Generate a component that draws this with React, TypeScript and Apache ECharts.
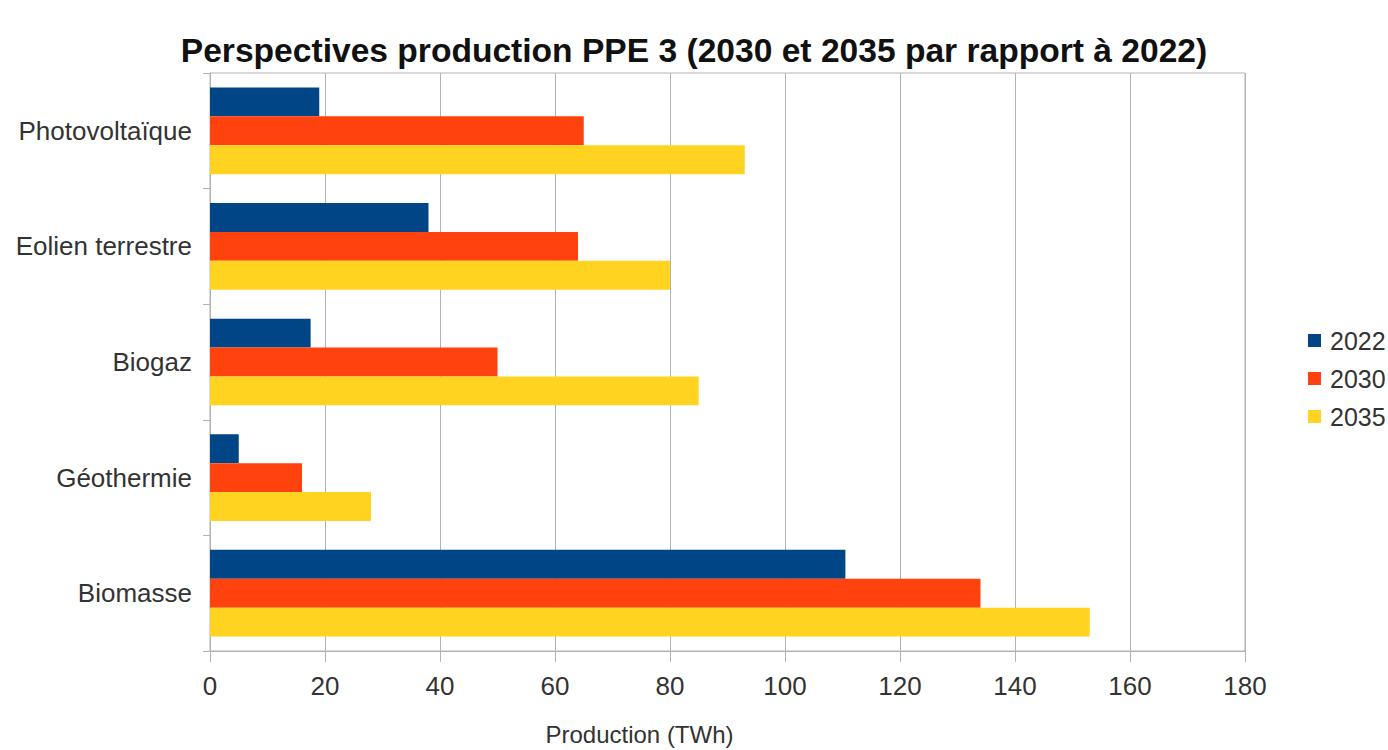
import React, { useEffect, useRef } from "react";
import * as echarts from "echarts";

const categories = ["Photovoltaïque", "Eolien terrestre", "Biogaz", "Géothermie", "Biomasse"];
const seriesNames = ["2022", "2030", "2035"];
const values2022 = [19, 38, 17.5, 5, 110.5];
const values2030 = [65, 64, 50, 16, 134];
const values2035 = [93, 80, 85, 28, 153];
const colors = ["#004586", "#ff420e", "#ffd320"];

export default function App() {
  const ref = useRef<HTMLDivElement>(null);
  useEffect(() => {
    document.body.style.margin = "0";
    const chart = echarts.init(ref.current!, null, { renderer: "svg" });
    const font = "'Liberation Sans', Arial, sans-serif";
    const data = [values2022, values2030, values2035];
    chart.setOption({
      animation: false,
      backgroundColor: "#ffffff",
      textStyle: { fontFamily: font },
      title: {
        text: "Perspectives production PPE 3 (2030 et 2035 par rapport à 2022)",
        left: "center",
        top: 28,
        textStyle: { fontFamily: font, fontWeight: "bold", fontSize: 33.6, color: "#111" },
      },
      legend: {
        orient: "vertical",
        left: 1303,
        top: 323,
        itemWidth: 13,
        itemHeight: 13,
        itemGap: 13,
        icon: "rect",
        textStyle: { fontFamily: font, fontSize: 25, lineHeight: 25, color: "#333", padding: [0, 0, 0, 4] },
        data: seriesNames,
      },
      grid: {
        left: 210,
        right: 143,
        top: 73,
        bottom: 99,
        outerBoundsMode: "none",
        containLabel: false,
        show: true,
        borderColor: "#b3b3b3",
        borderWidth: 1,
      },
      xAxis: {
        type: "value",
        min: 0,
        max: 180,
        interval: 20,
        name: "Production (TWh)",
        nameLocation: "middle",
        nameGap: 71,
        nameTextStyle: {
          fontFamily: font,
          fontSize: 24,
          lineHeight: 24,
          color: "#333",
          padding: [0, 176, 0, 0],
        },
        axisLine: { show: true, lineStyle: { color: "#b3b3b3" } },
        axisTick: { show: true, length: 11, lineStyle: { color: "#b3b3b3" } },
        axisLabel: { fontFamily: font, fontSize: 26, color: "#333", margin: 22 },
        splitLine: { show: true, lineStyle: { color: "#b3b3b3", width: 1 } },
      },
      yAxis: {
        type: "category",
        data: categories,
        inverse: true,
        axisLine: { show: true, lineStyle: { color: "#b3b3b3" } },
        axisTick: { show: true, length: 7, lineStyle: { color: "#b3b3b3" } },
        axisLabel: { fontFamily: font, fontSize: 26, color: "#333", margin: 18 },
      },
      series: seriesNames.map((name, i) => ({
        name,
        type: "bar",
        data: data[i],
        barGap: "0%",
        barCategoryGap: "25%",
        itemStyle: { color: colors[i] },
      })),
    });
    return () => chart.dispose();
  }, []);
  return <div ref={ref} style={{ width: 1388, height: 750 }} />;
}
